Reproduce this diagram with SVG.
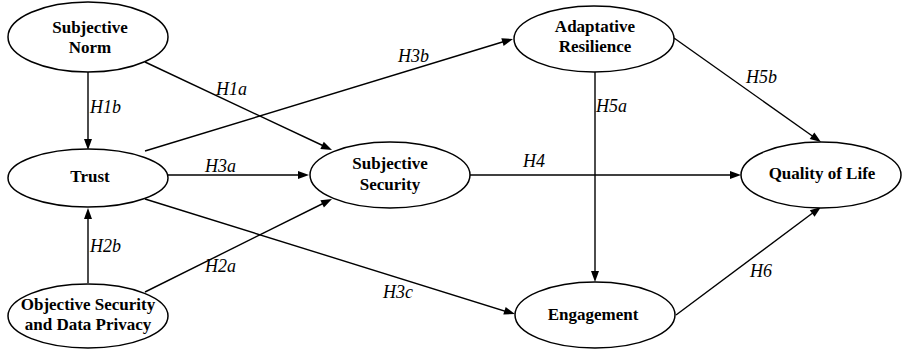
<svg xmlns="http://www.w3.org/2000/svg" width="902" height="350" viewBox="0 0 902 350">
<defs>
<path id="ah" d="M0,0 L-11,-4 L-11,4 Z" fill="#000"/>
</defs>
<rect width="902" height="350" fill="#fff"/>
<g id="connectors">
<g stroke="#000" stroke-width="1.4">
<line x1="88" y1="72" x2="88" y2="146"/>
<line x1="88" y1="283" x2="88" y2="212"/>
<line x1="145" y1="62" x2="328" y2="148"/>
<line x1="145" y1="151" x2="509" y2="40"/>
<line x1="168" y1="175" x2="305" y2="175"/>
<line x1="145" y1="292" x2="328" y2="201"/>
<line x1="145" y1="199" x2="511" y2="313"/>
<line x1="470" y1="175" x2="737" y2="175"/>
<line x1="595" y1="72" x2="595" y2="278"/>
<line x1="674" y1="38" x2="818" y2="140"/>
<line x1="676" y1="315" x2="818" y2="209"/>
</g>
<use href="#ah" transform="translate(88,150) rotate(90)"/>
<use href="#ah" transform="translate(88,208) rotate(-90)"/>
<use href="#ah" transform="translate(332,150) rotate(25.2)"/>
<use href="#ah" transform="translate(513,39) rotate(-16.9)"/>
<use href="#ah" transform="translate(309,175)"/>
<use href="#ah" transform="translate(332,199) rotate(-26.4)"/>
<use href="#ah" transform="translate(515,314) rotate(17.3)"/>
<use href="#ah" transform="translate(741,175)"/>
<use href="#ah" transform="translate(595,282) rotate(90)"/>
<use href="#ah" transform="translate(821,142) rotate(35.3)"/>
<use href="#ah" transform="translate(821,207) rotate(-36.7)"/>
</g>
<g id="edge-labels">
<text x="90" y="113" style="font-family:'Liberation Serif',serif;font-style:italic;font-size:18px">H1b</text>
<text x="216" y="95" style="font-family:'Liberation Serif',serif;font-style:italic;font-size:18px">H1a</text>
<text x="398" y="62" style="font-family:'Liberation Serif',serif;font-style:italic;font-size:18px">H3b</text>
<text x="205" y="172" style="font-family:'Liberation Serif',serif;font-style:italic;font-size:18px">H3a</text>
<text x="90" y="252" style="font-family:'Liberation Serif',serif;font-style:italic;font-size:18px">H2b</text>
<text x="205" y="272" style="font-family:'Liberation Serif',serif;font-style:italic;font-size:18px">H2a</text>
<text x="383" y="298" style="font-family:'Liberation Serif',serif;font-style:italic;font-size:18px">H3c</text>
<text x="523" y="167" style="font-family:'Liberation Serif',serif;font-style:italic;font-size:18px">H4</text>
<text x="596" y="112" style="font-family:'Liberation Serif',serif;font-style:italic;font-size:18px">H5a</text>
<text x="746" y="83" style="font-family:'Liberation Serif',serif;font-style:italic;font-size:18px">H5b</text>
<text x="750" y="277" style="font-family:'Liberation Serif',serif;font-style:italic;font-size:18px">H6</text>
</g>
<g id="subjective-norm">
<ellipse cx="88" cy="37" rx="80" ry="35" fill="#fff" stroke="#000" stroke-width="1.5"/>
<text x="90" y="33" style="font-family:'Liberation Serif',serif;font-weight:bold;font-size:17px" text-anchor="middle">Subjective</text>
<text x="90" y="53" style="font-family:'Liberation Serif',serif;font-weight:bold;font-size:17px" text-anchor="middle">Norm</text>
</g>
<g id="trust">
<ellipse cx="88" cy="178" rx="80" ry="29" fill="#fff" stroke="#000" stroke-width="1.5"/>
<text x="90" y="182" style="font-family:'Liberation Serif',serif;font-weight:bold;font-size:17px" text-anchor="middle">Trust</text>
</g>
<g id="objective-security">
<ellipse cx="88" cy="316" rx="80" ry="32" fill="#fff" stroke="#000" stroke-width="1.5"/>
<text x="88" y="310" style="font-family:'Liberation Serif',serif;font-weight:bold;font-size:17px" text-anchor="middle">Objective Security</text>
<text x="88" y="330" style="font-family:'Liberation Serif',serif;font-weight:bold;font-size:17px" text-anchor="middle">and Data Privacy</text>
</g>
<g id="subjective-security">
<ellipse cx="390" cy="175" rx="80" ry="33" fill="#fff" stroke="#000" stroke-width="1.5"/>
<text x="390" y="169" style="font-family:'Liberation Serif',serif;font-weight:bold;font-size:17px" text-anchor="middle">Subjective</text>
<text x="390" y="190" style="font-family:'Liberation Serif',serif;font-weight:bold;font-size:17px" text-anchor="middle">Security</text>
</g>
<g id="adaptative-resilience">
<ellipse cx="594" cy="39" rx="80" ry="33" fill="#fff" stroke="#000" stroke-width="1.5"/>
<text x="595" y="32" style="font-family:'Liberation Serif',serif;font-weight:bold;font-size:17px" text-anchor="middle">Adaptative</text>
<text x="595" y="52" style="font-family:'Liberation Serif',serif;font-weight:bold;font-size:17px" text-anchor="middle">Resilience</text>
</g>
<g id="quality-of-life">
<ellipse cx="821" cy="175" rx="80" ry="33" fill="#fff" stroke="#000" stroke-width="1.5"/>
<text x="822" y="179" style="font-family:'Liberation Serif',serif;font-weight:bold;font-size:17px" text-anchor="middle">Quality of Life</text>
</g>
<g id="engagement">
<ellipse cx="595" cy="315" rx="80" ry="33" fill="#fff" stroke="#000" stroke-width="1.5"/>
<text x="593" y="320" style="font-family:'Liberation Serif',serif;font-weight:bold;font-size:17px" text-anchor="middle">Engagement</text>
</g>
</svg>
